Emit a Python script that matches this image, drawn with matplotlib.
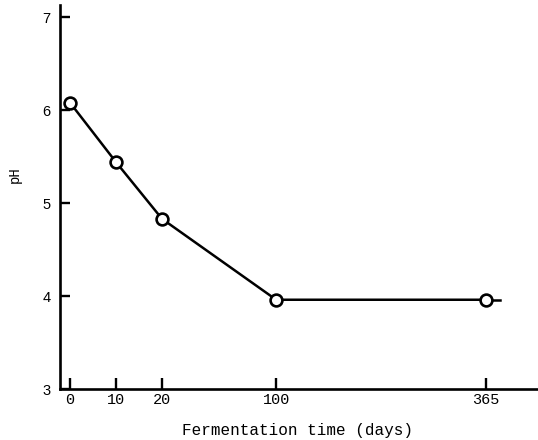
import numpy as np
import matplotlib
matplotlib.use("Agg")
import matplotlib.pyplot as plt

# data
days = [0, 10, 20, 100, 365]
ph = [6.08, 5.44, 4.83, 3.96, 3.96]

# the x axis is not linear: tick labels and where they sit
tick_days = [0, 10, 20, 100, 365]
tick_pos = [0.0, 1.0, 2.0, 4.48, 9.04]

fig = plt.figure(figsize=(5.38, 4.4), dpi=100)
ax = fig.add_axes([60 / 538, 51 / 440, 478 / 538, 384 / 440])

x = np.interp(days, tick_days, tick_pos)
ax.plot(x, ph, color="black", lw=1.8, marker="o", ms=8.5,
        mfc="white", mec="black", mew=1.9, zorder=3)
# short tail of the line past the last point
ax.plot([x[-1], x[-1] + 0.3], [ph[-1], ph[-1]], color="black", lw=1.8, zorder=2)

ax.set_xlim(-0.217, 10.17)
ax.set_ylim(3, 7.13)

ax.set_xticks(tick_pos)
ax.set_xticklabels([str(d) for d in tick_days], family="Liberation Mono", fontsize=11)
ax.set_yticks([3, 4, 5, 6, 7])
ax.set_yticklabels(["3", "4", "5", "6", "7"], family="Liberation Sans", fontsize=10.5)

ax.tick_params(axis="x", direction="in", length=8, width=1.7, pad=3)
ax.tick_params(axis="y", direction="in", length=7, width=1.7, pad=7)

for side in ["top", "right"]:
    ax.spines[side].set_visible(False)
for side in ["left", "bottom"]:
    ax.spines[side].set_linewidth(1.9)

ax.set_xlabel("Fermentation time (days)", family="Liberation Mono", fontsize=11.5)
ax.xaxis.set_label_coords(0.497, -0.088)
ax.set_ylabel("pH", family="Liberation Mono", fontsize=10)
ax.yaxis.set_label_coords(-0.079, 0.557)

fig.savefig("out.png", dpi=100)
